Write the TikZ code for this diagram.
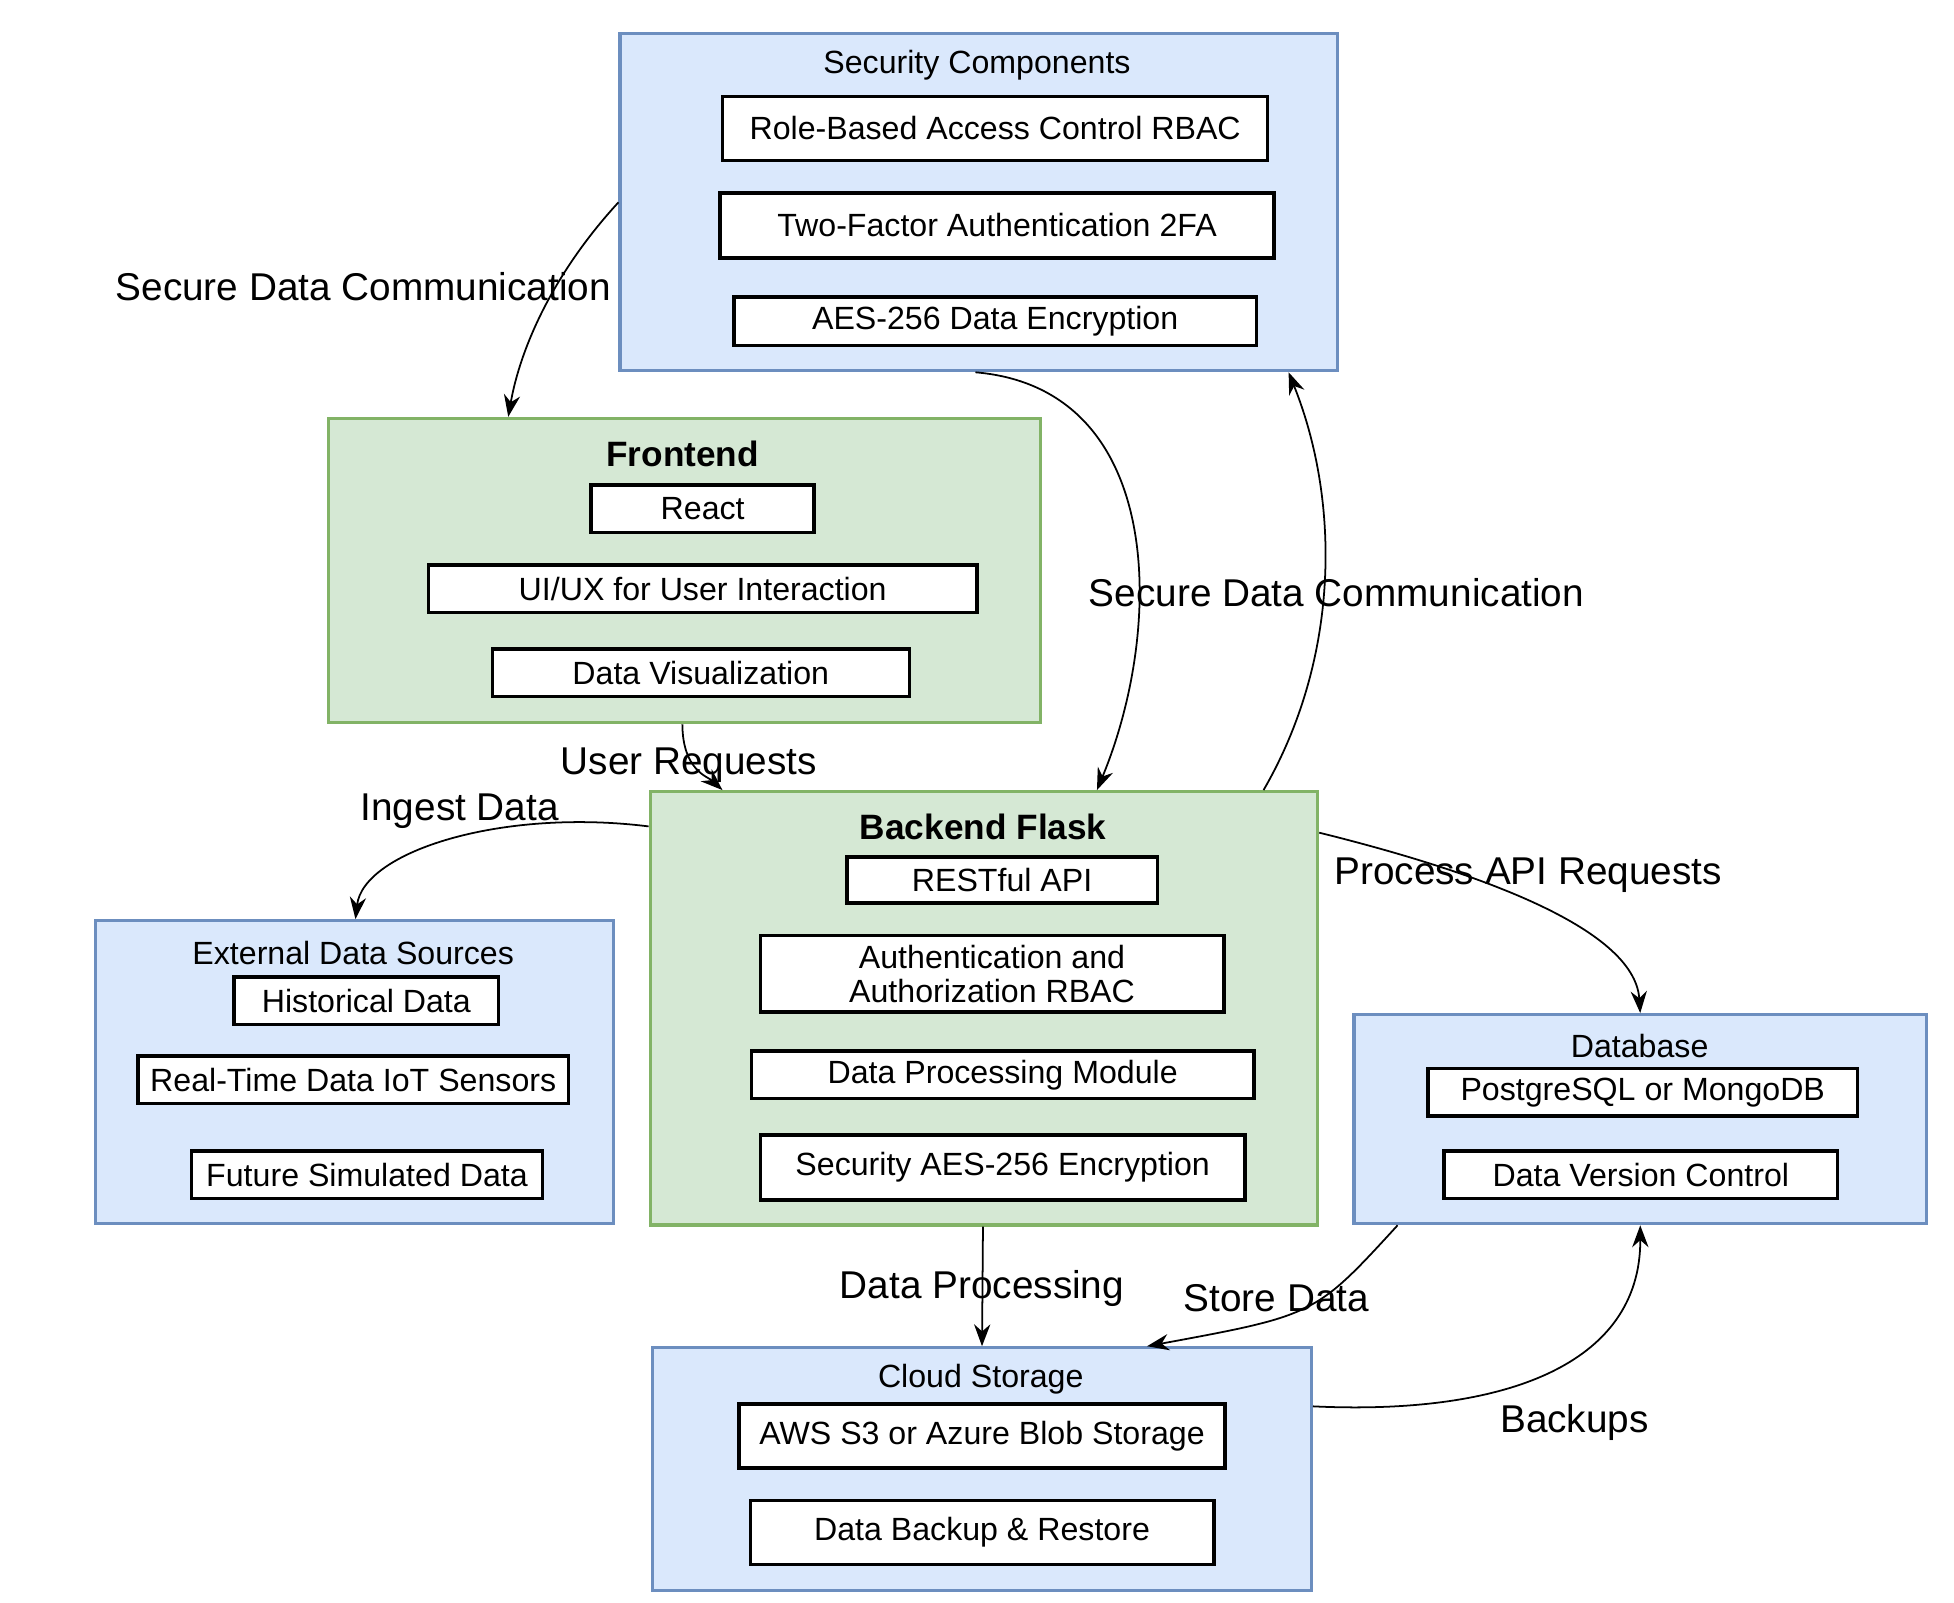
\documentclass[tikz,border=0pt]{standalone}
\usepackage{fontspec}
\setmainfont{Liberation Sans}
\usetikzlibrary{arrows.meta}
\begin{document}
\begin{tikzpicture}[
  blue/.style={draw={rgb,255:red,108;green,142;blue,191},fill={rgb,255:red,218;green,232;blue,252},line width=1.4pt},
  green/.style={draw={rgb,255:red,130;green,179;blue,102},fill={rgb,255:red,213;green,232;blue,212},line width=1.4pt},
  inner/.style={draw=black,fill=white,line width=1.6pt,font=\fontsize{14.6}{15.5}\selectfont,align=center,inner sep=0pt},
  ttl/.style={font=\fontsize{14.6}{15.5}\selectfont},
  btl/.style={font=\fontsize{16}{17}\selectfont\bfseries},
  lbl/.style={font=\fontsize{17.6}{19}\selectfont},
  conn/.style={-{Stealth[length=3.5mm,width=2.6mm]},line width=0.8pt}
]
\useasboundingbox (0,0) rectangle (31.2,-25.58);
% Security
\node[blue,minimum width=11.46cm,minimum height=5.38cm] (sec) at (15.63,-3.23) {};
\node[ttl] (secT) at (15.6,-1.04) {Security Components};
\node[inner,minimum width=8.7cm,minimum height=1.02cm] (rbac) at (15.89,-2.05) {Role-Based Access Control RBAC};
\node[inner,minimum width=8.84cm,minimum height=1.04cm] (tfa) at (15.92,-3.6) {Two-Factor Authentication 2FA};
\node[inner,minimum width=8.34cm,minimum height=0.78cm] (aes) at (15.89,-5.13) {AES-256 Data Encryption};
% Frontend
\node[green,minimum width=11.38cm,minimum height=4.86cm] (fe) at (10.93,-9.11) {};
\node[btl] (feT) at (10.9,-7.24) {Frontend};
\node[inner,minimum width=3.56cm,minimum height=0.76cm] (react) at (11.22,-8.12) {React};
\node[inner,minimum width=8.76cm,minimum height=0.76cm] (ui) at (11.22,-9.4) {UI/UX for User Interaction};
\node[inner,minimum width=6.66cm,minimum height=0.76cm] (dv) at (11.19,-10.74) {Data Visualization};
% Backend
\node[green,minimum width=10.66cm,minimum height=6.92cm] (be) at (15.71,-16.1) {};
\node[btl] (beT) at (15.7,-13.2) {Backend Flask};
\node[inner,minimum width=4.96cm,minimum height=0.74cm] (rest) at (16,-14.05) {RESTful API};
\node[inner,minimum width=7.4cm,minimum height=1.22cm] (auth) at (15.84,-15.55) {Authentication and\\Authorization RBAC};
\node[inner,minimum width=8.02cm,minimum height=0.76cm] (dpm) at (16.01,-17.16) {Data Processing Module};
\node[inner,minimum width=7.74cm,minimum height=1.04cm] (saes) at (16.01,-18.64) {Security AES-256 Encryption};
% External
\node[blue,minimum width=8.28cm,minimum height=4.84cm] (ext) at (5.66,-17.12) {};
\node[ttl] (extT) at (5.64,-15.22) {External Data Sources};
\node[inner,minimum width=4.22cm,minimum height=0.76cm] (hist) at (5.85,-15.98) {Historical Data};
\node[inner,minimum width=6.88cm,minimum height=0.76cm] (rt) at (5.64,-17.24) {Real-Time Data IoT Sensors};
\node[inner,minimum width=5.6cm,minimum height=0.76cm] (fut) at (5.86,-18.76) {Future Simulated Data};
% Database
\node[blue,minimum width=9.14cm,minimum height=3.34cm] (db) at (26.19,-17.87) {};
\node[ttl] (dbT) at (26.18,-16.7) {Database};
\node[inner,minimum width=6.86cm,minimum height=0.76cm] (pg) at (26.23,-17.44) {PostgreSQL or MongoDB};
\node[inner,minimum width=6.28cm,minimum height=0.76cm] (dvc) at (26.2,-18.76) {Data Version Control};
% Cloud
\node[blue,minimum width=10.52cm,minimum height=3.88cm] (cl) at (15.68,-23.46) {};
\node[ttl] (clT) at (15.66,-22.02) {Cloud Storage};
\node[inner,minimum width=7.76cm,minimum height=1.02cm] (aws) at (15.68,-22.93) {AWS S3 or Azure Blob Storage};
\node[inner,minimum width=7.4cm,minimum height=1.02cm] (bk) at (15.68,-24.47) {Data Backup \& Restore};
% connectors
\draw[conn] (sec.west) .. controls (8.8,-4.4) and (8.3,-5.6) .. ([xshift=2.9cm]fe.north west);
\draw[conn] ([xshift=5.7cm]sec.south west) .. controls (18.6,-6.2) and (18.6,-10.0) .. ([xshift=7.16cm]be.north west);
\draw[conn] ([xshift=9.82cm]be.north west) .. controls (21.4,-10.5) and (21.4,-8.0) .. ([xshift=10.7cm]sec.south west);
\draw[conn] ([xshift=5.68cm]fe.south west) .. controls (10.9,-12.3) and (11.3,-12.4) .. ([xshift=1.18cm]be.north west);
\draw[conn] ([yshift=-0.58cm]be.north west) .. controls (8,-12.9) and (5.8,-13.6) .. ([xshift=4.18cm]ext.north west);
\draw[conn] ([yshift=-0.68cm]be.north east) .. controls (23.5,-13.9) and (26.1,-14.8) .. (db.north);
\draw[conn] ([xshift=5.34cm]be.south west) -- (cl.north);
\draw[conn] ([xshift=0.72cm]db.south west) .. controls (21,-21) .. ([xshift=7.92cm]cl.north west);
\draw[conn] ([yshift=-0.96cm]cl.north east) .. controls (24,-22.6) and (26.2,-21.8) .. (db.south);
% labels
\node[lbl] (l1) at (5.8,-4.58) {Secure Data Communication};
\node[lbl] (l2) at (21.34,-9.46) {Secure Data Communication};
\node[lbl] (l3) at (11,-12.22) {User Requests};
\node[lbl] (l4) at (7.34,-12.96) {Ingest Data};
\node[lbl] (l5) at (24.4,-13.98) {Process API Requests};
\node[lbl] (l6) at (15.68,-20.58) {Data Processing};
\node[lbl] (l7) at (20.38,-20.72) {Store Data};
\node[lbl] (l8) at (25.14,-22.72) {Backups};
\end{tikzpicture}
\end{document}
